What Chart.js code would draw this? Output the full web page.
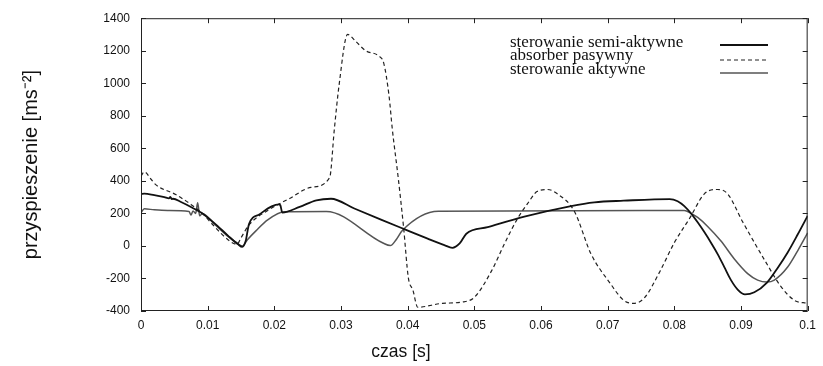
<!DOCTYPE html>
<html>
<head>
<meta charset="utf-8">
<script src="https://cdn.jsdelivr.net/npm/chart.js@4"></script>
<style>
html,body{margin:0;padding:0;background:#fff;}
#wrap{width:823px;height:366px;position:relative;}
</style>
</head>
<body>
<div id="wrap"><canvas id="c" width="823" height="366"></canvas></div>
<script>
// ---- data (time in s, acceleration in m/s^2) ----
const seriesNames = ['sterowanie semi-aktywne', 'absorber pasywny', 'sterowanie aktywne'];

const semiT = [0, 0.0005, 0.002, 0.0035, 0.0042, 0.0044, 0.0046, 0.0048, 0.006, 0.0077, 0.009, 0.011, 0.013, 0.0145, 0.0152, 0.0157, 0.0162, 0.0178, 0.0196, 0.0207, 0.0209, 0.0212, 0.0238, 0.0263, 0.0285, 0.032, 0.036, 0.0394, 0.043, 0.0455, 0.0467, 0.0478, 0.0488, 0.052, 0.0575, 0.0645, 0.068, 0.0724, 0.0793, 0.0805, 0.0815, 0.0825, 0.0835, 0.0845, 0.0855, 0.0865, 0.0875, 0.0885, 0.0895, 0.0906, 0.092, 0.0939, 0.0955, 0.097, 0.0985, 0.1];
const semiV = [318, 322, 312, 300, 292, 302, 288, 290, 270, 235, 205, 140, 65, 12, -6, 30, 134, 195, 243, 255, 250, 205, 240, 280, 290, 230, 162, 105, 45, 5, -12, 15, 75, 115, 180, 245, 268, 278, 288, 275, 245, 200, 145, 85, 20, -50, -130, -210, -268, -298, -285, -225, -135, -40, 70, 185];

const pasT = [0, 0.0005, 0.0015, 0.0022, 0.0052, 0.0075, 0.0092, 0.011, 0.013, 0.0144, 0.015, 0.0163, 0.0193, 0.0223, 0.0255, 0.0283, 0.029, 0.0297, 0.031, 0.0322, 0.0337, 0.0357, 0.0364, 0.0372, 0.0377, 0.0386, 0.0394, 0.0401, 0.0408, 0.0415, 0.0452, 0.0482, 0.05, 0.0526, 0.0545, 0.0565, 0.058, 0.0594, 0.061, 0.0624, 0.065, 0.0675, 0.0704, 0.0724, 0.0739, 0.0755, 0.0779, 0.08, 0.0823, 0.0845, 0.0865, 0.088, 0.0902, 0.0936, 0.096, 0.098, 0.1];
const pasV = [430, 455, 410, 377, 316, 255, 200, 120, 40, 10, 50, 134, 225, 292, 360, 420, 717, 985, 1300, 1258, 1200, 1167, 1125, 925, 717, 413, 109, -195, -273, -377, -353, -345, -316, -152, 12, 170, 261, 334, 347, 322, 213, -49, -231, -334, -353, -320, -152, 20, 170, 320, 347, 320, 152, -91, -250, -334, -353];

const aktT = [0, 0.0005, 0.002, 0.004, 0.0072, 0.0075, 0.0078, 0.0082, 0.0085, 0.0088, 0.0092, 0.011, 0.013, 0.0145, 0.0152, 0.016, 0.0172, 0.019, 0.0215, 0.0278, 0.0363, 0.0374, 0.0383, 0.0392, 0.0446, 0.0815, 0.0825, 0.0835, 0.085, 0.087, 0.089, 0.091, 0.0925, 0.0939, 0.095, 0.097, 0.0985, 0.1];
const aktV = [205, 228, 222, 218, 212, 190, 215, 200, 265, 185, 200, 135, 60, 15, 0, 40, 91, 160, 210, 212, 18, 2, 40, 95, 213, 218, 200, 175, 120, 30, -80, -170, -210, -222, -210, -130, -30, 80];

const xTickLabels = ['0', '0.01', '0.02', '0.03', '0.04', '0.05', '0.06', '0.07', '0.08', '0.09', '0.1'];
const yTickLabels = ['-400', '-200', '0', '200', '400', '600', '800', '1000', '1200', '1400'];

const xTitle = 'czas [s]';
const yTitle = 'przyspieszenie [ms\u207B\u00B2]';

function pts(t, v) { return t.map((x, i) => ({x: x, y: v[i]})); }

const styles = [
  {color: '#111', width: 1.8, dash: []},
  {color: '#222', width: 1.2, dash: [4, 3]},
  {color: '#555', width: 1.5, dash: []}
];

const framePlugin = {
  id: 'frame',
  afterDatasetsDraw(chart) {
    const ctx = chart.ctx, a = chart.chartArea;
    const xs = chart.scales.x, ys = chart.scales.y;
    ctx.save();
    ctx.strokeStyle = '#222';
    ctx.lineWidth = 1;
    ctx.strokeRect(a.left + 0.5, a.top + 0.5, a.right - a.left - 1, a.bottom - a.top - 1);
    ctx.beginPath();
    xs.ticks.forEach(t => {
      const px = Math.round(xs.getPixelForValue(t.value)) + 0.5;
      ctx.moveTo(px, a.bottom); ctx.lineTo(px, a.bottom - 5);
      ctx.moveTo(px, a.top); ctx.lineTo(px, a.top + 5);
    });
    ys.ticks.forEach(t => {
      const py = Math.round(ys.getPixelForValue(t.value)) + 0.5;
      ctx.moveTo(a.left, py); ctx.lineTo(a.left + 5, py);
      ctx.moveTo(a.right, py); ctx.lineTo(a.right - 5, py);
    });
    ctx.stroke();
    // x axis title
    ctx.fillStyle = '#111';
    ctx.font = '17.5px "Liberation Sans", Arial, sans-serif';
    ctx.textAlign = 'center';
    ctx.textBaseline = 'middle';
    ctx.fillText(xTitle, 401, 352);
    // legend
    ctx.font = '17px "Liberation Serif", "Times New Roman", serif';
    ctx.textAlign = 'left';
    ctx.textBaseline = 'alphabetic';
    const baselines = [47, 60, 73.5];
    const lineYs = [45, 60, 73];
    seriesNames.forEach((n, i) => {
      ctx.fillStyle = '#111';
      ctx.fillText(n, 510, baselines[i]);
      const st = styles[i];
      ctx.beginPath();
      ctx.setLineDash(st.dash);
      ctx.strokeStyle = st.color;
      ctx.lineWidth = st.width;
      ctx.moveTo(720, lineYs[i]); ctx.lineTo(768, lineYs[i]);
      ctx.stroke();
      ctx.setLineDash([]);
    });
    ctx.restore();
  }
};

const datasets = [
  {label: seriesNames[0], data: pts(semiT, semiV)},
  {label: seriesNames[1], data: pts(pasT, pasV)},
  {label: seriesNames[2], data: pts(aktT, aktV)}
].map((d, i) => Object.assign(d, {
  borderColor: styles[i].color,
  borderWidth: styles[i].width,
  borderDash: styles[i].dash,
  pointRadius: 0,
  cubicInterpolationMode: 'monotone',
  fill: false
}));

new Chart(document.getElementById('c'), {
  type: 'line',
  data: {datasets: datasets},
  options: {
    responsive: false,
    animation: false,
    layout: {padding: {top: 15, right: 7, left: 0, bottom: 0}},
    plugins: {legend: {display: false}, tooltip: {enabled: false}},
    scales: {
      x: {
        type: 'linear', min: 0, max: 0.1,
        afterFit: s => { s.height = 55; },
        grid: {display: false, drawTicks: false},
        border: {display: false},
        ticks: {
          stepSize: 0.01, padding: 7, color: '#111', maxRotation: 0, autoSkip: false,
          font: {family: '"Liberation Sans", Arial, sans-serif', size: 12},
          callback: (v, i) => xTickLabels[i]
        }
      },
      y: {
        min: -400, max: 1400,
        afterFit: s => { s.width = 141; },
        grid: {display: false, drawTicks: false},
        border: {display: false},
        ticks: {
          stepSize: 200, padding: 11, color: '#111',
          font: {family: '"Liberation Sans", Arial, sans-serif', size: 12},
          callback: (v, i) => yTickLabels[i]
        },
        title: {
          display: true, text: yTitle, color: '#111',
          font: {family: '"Liberation Sans", Arial, sans-serif', size: 20},
          padding: {top: 19, bottom: 0}
        }
      }
    }
  },
  plugins: [framePlugin]
});
</script>
</body>
</html>
